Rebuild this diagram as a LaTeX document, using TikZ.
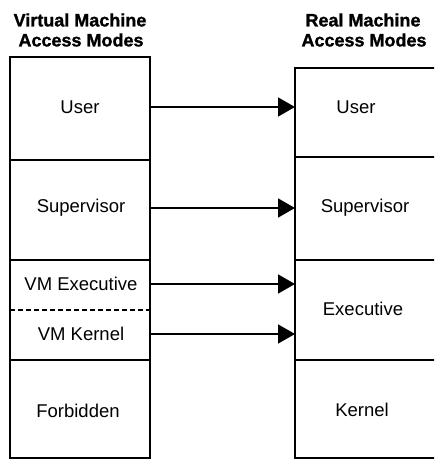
\documentclass[tikz,border=0pt]{standalone}
\usepackage{fontspec}
\setmainfont{Liberation Sans}
\newfontfamily\headfont{Liberation Sans Bold}[FakeBold=1.2]
\usetikzlibrary{arrows.meta}

\tikzset{
  modebox/.style={line width=2.6pt},
  modelabel/.style={font=\fontsize{18.5}{22}\selectfont, inner sep=0pt},
  headlabel/.style={font=\fontsize{18}{22}\selectfont\headfont, inner sep=0pt},
  conn/.style={line width=1.5pt, -{Triangle[length=17pt,width=19pt]}}
}

\begin{document}
\begin{tikzpicture}[x=1pt,y=-1pt]
        \useasboundingbox (0,0) rectangle (434,462);
        \clip (0,0) rectangle (434,462);
        % Headings
        \node[headlabel] (vhead1) at (80,20) {Virtual Machine};
        \node[headlabel] (vhead2) at (81,40) {Access Modes};
        \node[headlabel] (rhead1) at (363,20) {Real Machine};
        \node[headlabel] (rhead2) at (364,40) {Access Modes};
        % Virtual machine box
        \draw[modebox] (10,57) rectangle (150,458);
        \draw[modebox] (10,160) -- (150,160);
        \draw[modebox] (10,260) -- (150,260);
        \draw[line width=1.8pt, dash pattern=on 5pt off 3pt] (10,310) -- (150,310);
        \draw[modebox] (10,360) -- (150,360);
        % Real machine box
        \draw[modebox] (295,68) rectangle (440,458);
        \draw[line width=1.8pt] (295,157) -- (440,157);
        \draw[line width=1.8pt] (295,260) -- (440,260);
        \draw[line width=1.8pt] (295,360) -- (440,360);
        % Labels in the boxes
        \node[modelabel] (vuser) at (80,107) {User};
        \node[modelabel] (vsup) at (81,208) {Supervisor};
        \node[modelabel] (vexec) at (81,284) {VM Executive};
        \node[modelabel] (vkern) at (81,334) {VM Kernel};
        \node[modelabel] (vforb) at (78,411) {Forbidden};
        \node[modelabel] (ruser) at (356,107) {User};
        \node[modelabel] (rsup) at (365,208) {Supervisor};
        \node[modelabel] (rexec) at (363,309) {Executive};
        \node[modelabel] (rkern) at (362,410) {Kernel};
        % Box edges
        \coordinate (vedge) at (150,0);
        \coordinate (redge) at (295,0);
        % Arrows
        \draw[conn] (vuser -| vedge) -- (vuser -| redge);
        \draw[conn] (vsup -| vedge) -- (vsup -| redge);
        \draw[conn] (vexec -| vedge) -- (vexec -| redge);
        \draw[conn] (vkern -| vedge) -- (vkern -| redge);
    \end{tikzpicture}
\end{document}
